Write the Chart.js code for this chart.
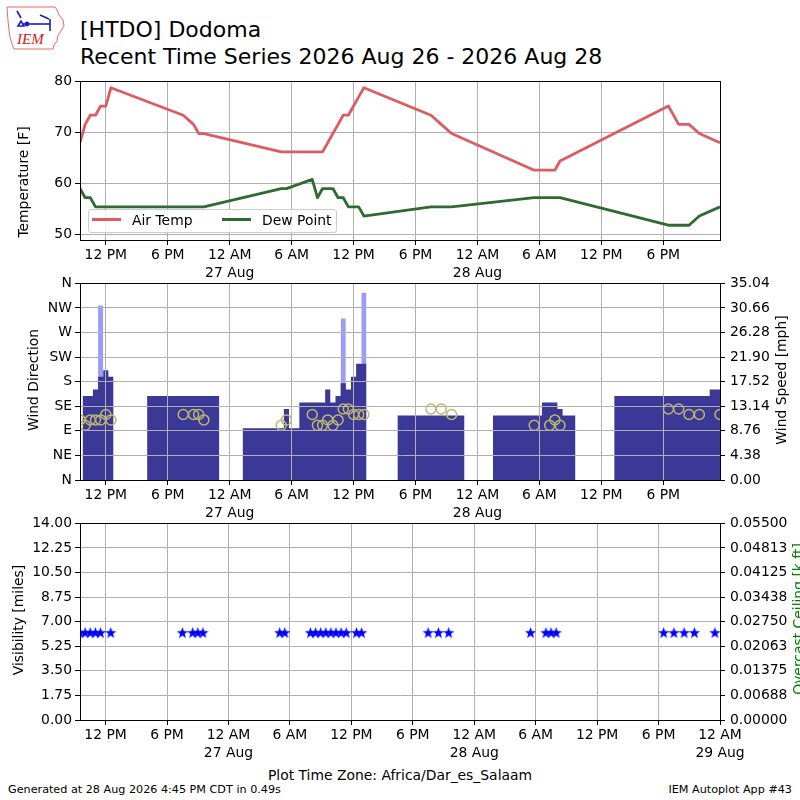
<!DOCTYPE html>
<html>
<head>
<meta charset="utf-8">
<script src="https://cdn.jsdelivr.net/npm/chart.js@4.4.1/dist/chart.umd.min.js"></script>
<style>
  body { margin: 0; background: #fff; }
  #page { position: relative; width: 800px; height: 800px; overflow: hidden; font-family: 'DejaVu Sans', sans-serif; color: #000; }
  .abs { position: absolute; white-space: nowrap; }
  .ylab { position: absolute; white-space: nowrap; font-size: 13.9px; line-height: 17px; transform: translate(-50%, -50%) rotate(-90deg); }
  canvas { position: absolute; left: 0; }
</style>
</head>
<body>
<div id="page">
  <svg class="abs" style="left:0;top:0" width="70" height="56" viewBox="0 0 70 56">
    <path d="M7 7 L55 7 L57 10 L59 15 L63 20 L64 26 L61 31 L58 35 L57 41 L54 45 L53 49 L14 49 L12 44 L10 37 L9 30 L8 21 Z" fill="none" stroke="#e8413c" stroke-width="0.8"/>
    <g stroke="#1a1acc" stroke-width="1.6" fill="none">
      <path d="M23 24 H50"/><path d="M17 11 L21 18"/><path d="M40 15 L49 19"/><path d="M50 19 V31"/><path d="M18 26 L21 21 L24 26 Z"/>
    </g>
    <circle cx="27" cy="24" r="2.4" fill="#1a1acc"/>
    <text x="17" y="44" font-family="Liberation Serif" font-style="italic" font-size="15" fill="#d42020">IEM</text>
  </svg>
  <div class="abs" style="left:80px;top:16px;font-size:22px;line-height:27px">[HTDO] Dodoma<br>Recent Time Series 2026 Aug 26 - 2026 Aug 28</div>

  <canvas id="cTemp" width="800" height="210" style="top:70px"></canvas>
  <canvas id="cWind" width="800" height="250" style="top:270px"></canvas>
  <canvas id="cVis" width="800" height="250" style="top:510px"></canvas>

  <div class="ylab" style="left:22.5px;top:182px">Temperature [F]</div>
  <div class="ylab" style="left:33px;top:380px">Wind Direction</div>
  <div class="ylab" style="left:781px;top:380px">Wind Speed [mph]</div>
  <div class="ylab" style="left:18px;top:620px">Visibility [miles]</div>
  <div class="ylab" style="left:798px;top:619px;color:#008000">Overcast Ceiling [k ft]</div>

  <div class="abs" style="left:88px;top:209px;width:247px;height:22px;border:1px solid #cccccc;border-radius:3px;background:rgba(255,255,255,0.8)"></div>
  <div class="abs" style="left:92px;top:218px;width:29px;height:3px;background:#dd5c61"></div>
  <div class="abs" style="left:132px;top:211px;font-size:13.9px;line-height:19px">Air Temp</div>
  <div class="abs" style="left:222px;top:218px;width:29px;height:3px;background:#2f6a31"></div>
  <div class="abs" style="left:262px;top:211px;font-size:13.9px;line-height:19px">Dew Point</div>

  <div class="abs" style="left:400px;top:766.5px;transform:translateX(-50%);font-size:13.9px;line-height:16px">Plot Time Zone: Africa/Dar_es_Salaam</div>
  <div class="abs" style="left:8px;top:783px;font-size:11.2px;line-height:13px">Generated at 28 Aug 2026 4:45 PM CDT in 0.49s</div>
  <div class="abs" style="right:8px;top:783px;font-size:11.2px;line-height:13px">IEM Autoplot App #43</div>
</div>
<script>
// observation times, hours after 00:00 26 Aug 2026 (Africa/Dar_es_Salaam)
const obsHour = [9.5, 10, 10.5, 11, 11.5, 12, 12.5, 19.5, 20.5, 21, 21.5,
  29, 29.5, 32, 32.5, 33, 33.5, 34, 34.5, 35, 35.5, 36, 36.5, 37,
  43.5, 44.5, 45.5, 53.5, 55, 55.5, 56, 66.5, 67.5, 68.5, 69.5, 71.5];

const airTemp = [68.0, 71.6, 73.4, 73.4, 75.2, 75.2, 78.8, 73.4, 71.6, 69.8, 69.8,
  66.2, 66.2, 66.2, 66.2, 66.2, 68.0, 69.8, 71.6, 73.4, 73.4, 75.2, 77.0, 78.8,
  73.4, 71.6, 69.8, 62.6, 62.6, 62.6, 64.4, 75.2, 71.6, 71.6, 69.8, 68.0];

const dewPoint = [59.0, 57.2, 57.2, 55.4, 55.4, 55.4, 55.4, 55.4, 55.4, 55.4, 55.4,
  59.0, 59.0, 60.8, 57.2, 59.0, 59.0, 59.0, 57.2, 57.2, 55.4, 55.4, 55.4, 53.6,
  55.4, 55.4, 55.4, 57.2, 57.2, 57.2, 57.2, 51.8, 51.8, 51.8, 53.6, 55.4];

const windDir = [110, 100, 110, 110, 110, 120, 110, 120, 120, 120, 110,
  100, 110, 120, 100, 100, 110, 100, 110, 130, 130, 120, 120, 120,
  130, 130, 120, 100, 100, 110, 100, 130, 130, 120, 120, 120];

// mph
const windSpeed = [14.96, 14.96, 14.96, 16.11, 18.41, 19.56, 18.41, 14.96, 14.96, 14.96, 14.96,
  9.21, 12.66, 13.81, 13.81, 13.81, 16.11, 13.81, 14.96, 17.26, 16.11, 18.41, 20.71, 20.71,
  11.51, 11.51, 11.51, 11.51, 13.81, 13.81, 12.66, 14.96, 14.96, 14.96, 14.96, 16.11];

const windGust = [null, null, null, null, 31.07, null, null, null, null, null, null,
  null, null, null, null, null, null, null, null, 28.77, null, null, null, 33.37,
  null, null, null, null, null, null, null, null, null, null, null, null];

// miles
const visibility = [6.21, 6.21, 6.21, 6.21, 6.21, null, 6.21, 6.21, 6.21, 6.21, 6.21,
  6.21, 6.21, 6.21, 6.21, 6.21, 6.21, 6.21, 6.21, 6.21, 6.21, null, 6.21, 6.21,
  6.21, 6.21, 6.21, 6.21, 6.21, 6.21, 6.21, 6.21, 6.21, 6.21, 6.21, 6.21];

const tickHour = [12, 18, 24, 30, 36, 42, 48, 54, 60, 66, 72];
const tickText = ['12 PM', '6 PM', ['12 AM', '27 Aug'], '6 AM', '12 PM', '6 PM',
  ['12 AM', '28 Aug'], '6 AM', '12 PM', '6 PM', ['12 AM', '29 Aug']];
const tempTicks = [50, 60, 70, 80];
const dirTicks = [0, 45, 90, 135, 180, 225, 270, 315, 360];
const dirText = ['N', 'NE', 'E', 'SE', 'S', 'SW', 'W', 'NW', 'N'];
const speedTicks = [0, 4.38, 8.76, 13.14, 17.52, 21.90, 26.28, 30.66, 35.04];
const visTicks = [0, 1.75, 3.5, 5.25, 7, 8.75, 10.5, 12.25, 14];
const ceilTicks = [0, 0.006875, 0.01375, 0.020625, 0.0275, 0.034375, 0.04125, 0.048125, 0.055];
const ceilText = ['0.00000', '0.00688', '0.01375', '0.02063', '0.02750', '0.03438', '0.04125', '0.04813', '0.05500'];

Chart.defaults.font.family = "'DejaVu Sans', sans-serif";
Chart.defaults.font.size = 13.9;
Chart.defaults.color = '#000';
const GRID = '#b0b0b0';

// bars are centred on each ob, as wide as the gap to the previous ob;
// turn them into one stepped outline (tallest bar wins where they overlap)
function stepProfile(times, values) {
  const bars = [];
  for (let i = 1; i < times.length; i++) {
    if (values[i] === null) continue;
    const half = (times[i] - times[i - 1]) / 2;
    bars.push([times[i] - half, times[i] + half, values[i]]);
  }
  const edges = [...new Set(bars.flatMap(b => [b[0], b[1]]))].sort((a, b) => a - b);
  const pts = [];
  let last = null;
  for (let k = 0; k < edges.length; k++) {
    const a = edges[k], b = edges[k + 1];
    let top = null;
    if (b !== undefined) {
      const mid = (a + b) / 2;
      bars.forEach(([s, e, v]) => { if (s < mid && mid < e) top = Math.max(top === null ? 0 : top, v); });
    }
    if (top === null) {
      if (last !== null) {
        pts.push({x: a, y: last});
        pts.push({x: b === undefined ? a + 0.01 : (a + b) / 2, y: null});
      }
      last = null;
    } else {
      pts.push({x: a, y: top});
      last = top;
    }
  }
  return pts;
}

function fixedTicks(values) {
  return s => { s.ticks = values.map(v => ({value: v})); };
}

// z = 1 puts grid (and border) over the datasets, like matplotlib does over bars
function xAxis(max, z) {
  return {
    type: 'linear', min: 9.5, max: max,
    afterBuildTicks: fixedTicks(tickHour.filter(h => h <= max)),
    afterFit: s => { s.height = 40; },
    ticks: {autoSkip: false, maxRotation: 0, padding: 2, font: {lineHeight: 1.25},
      callback: v => tickText[tickHour.indexOf(v)]},
    grid: {color: GRID, tickColor: '#000', tickLength: 5, z: z ? 1 : -1},
    border: {color: '#000', z: z ? 1 : 0}
  };
}

function yAxis(position, min, max, values, fmt, onArea, z) {
  return {
    type: 'linear', position: position, min: min, max: max,
    afterBuildTicks: fixedTicks(values),
    afterFit: s => { s.width = 80; },
    ticks: {autoSkip: false, padding: position === 'left' ? 3 : 5, callback: fmt},
    grid: {color: GRID, tickColor: '#000', tickLength: 5, drawOnChartArea: onArea, z: z ? 1 : -1},
    border: {color: '#000', z: z ? 1 : 0}
  };
}

const frame = {
  id: 'frame',
  afterDraw(chart) {
    const {ctx, chartArea: a} = chart;
    ctx.save();
    ctx.strokeStyle = '#000';
    ctx.lineWidth = 1;
    ctx.strokeRect(Math.round(a.left) + 0.5, Math.round(a.top) + 0.5,
      Math.round(a.right - a.left), Math.round(a.bottom - a.top));
    ctx.restore();
  }
};

const common = {
  responsive: false,
  animation: false,
  plugins: {legend: {display: false}, tooltip: {enabled: false}}
};

function pairs(ys) {
  return obsHour.map((h, i) => ({x: h, y: ys[i]}));
}

// temperature / dew point
new Chart(document.getElementById('cTemp'), {
  type: 'line',
  data: {
    datasets: [
      {label: 'Air Temp', data: pairs(airTemp), borderColor: '#dd5c61', borderWidth: 2.8,
        pointRadius: 0, tension: 0, clip: 0, borderJoinStyle: 'round'},
      {label: 'Dew Point', data: pairs(dewPoint), borderColor: '#2f6a31', borderWidth: 2.8,
        pointRadius: 0, tension: 0, clip: 0, borderJoinStyle: 'round'}
    ]
  },
  options: Object.assign({}, common, {
    layout: {padding: {top: 11, right: 80, left: 0, bottom: 0}},
    scales: {
      x: xAxis(71.5, false),
      y: yAxis('left', 48.9, 80.05, tempTicks, v => v, true, false)
    }
  }),
  plugins: [frame]
});

// wind
const speedBars = stepProfile(obsHour, windSpeed);
const gustBars = stepProfile(obsHour, windGust);
new Chart(document.getElementById('cWind'), {
  type: 'line',
  data: {
    datasets: [
      {label: 'Wind Direction', data: pairs(windDir), yAxisID: 'y', showLine: false,
        pointRadius: 5, pointBorderWidth: 1.5, pointBackgroundColor: 'rgba(0,0,0,0)',
        pointBorderColor: '#bdb76b', order: 0, clip: 0},
      {label: 'Wind Speed', data: speedBars, yAxisID: 'y2', stepped: true, fill: 'origin',
        backgroundColor: '#3b3898', borderColor: 'rgba(0,0,0,0)', borderWidth: 0,
        pointRadius: 0, spanGaps: false, order: 1, clip: 0},
      {label: 'Wind Gust', data: gustBars, yAxisID: 'y2', stepped: true, fill: 'origin',
        backgroundColor: '#9b9bfa', borderColor: 'rgba(0,0,0,0)', borderWidth: 0,
        pointRadius: 0, spanGaps: false, order: 2, clip: 0}
    ]
  },
  options: Object.assign({}, common, {
    layout: {padding: {top: 10.7, right: 0, left: 0, bottom: 0}},
    scales: {
      x: xAxis(71.5, true),
      y: yAxis('left', 0, 360, dirTicks, (v, i) => dirText[i], true, true),
      y2: yAxis('right', 0, 35.04, speedTicks, v => v.toFixed(2), false, true)
    }
  }),
  plugins: [frame]
});

// visibility, filled star marker
const star = document.createElement('canvas');
star.width = 13; star.height = 13;
(function () {
  const c = star.getContext('2d');
  c.fillStyle = '#0000ff';
  c.beginPath();
  for (let k = 0; k < 10; k++) {
    const r = k % 2 === 0 ? 6 : 2.4;
    const ang = -Math.PI / 2 + k * Math.PI / 5;
    c.lineTo(6.5 + r * Math.cos(ang), 6.8 + r * Math.sin(ang));
  }
  c.closePath();
  c.fill();
})();

new Chart(document.getElementById('cVis'), {
  type: 'line',
  data: {
    datasets: [
      {label: 'Visibility', data: pairs(visibility), showLine: false, pointStyle: star,
        pointRadius: 6, clip: 0}
    ]
  },
  options: Object.assign({}, common, {
    layout: {padding: {top: 10.7, right: 0, left: 0, bottom: 0}},
    scales: {
      x: xAxis(72, false),
      y: yAxis('left', 0, 14, visTicks, v => v.toFixed(2), true, false),
      y2: yAxis('right', 0, 0.055, ceilTicks, (v, i) => ceilText[i], false, false)
    }
  }),
  plugins: [frame]
});
</script>
</body>
</html>
